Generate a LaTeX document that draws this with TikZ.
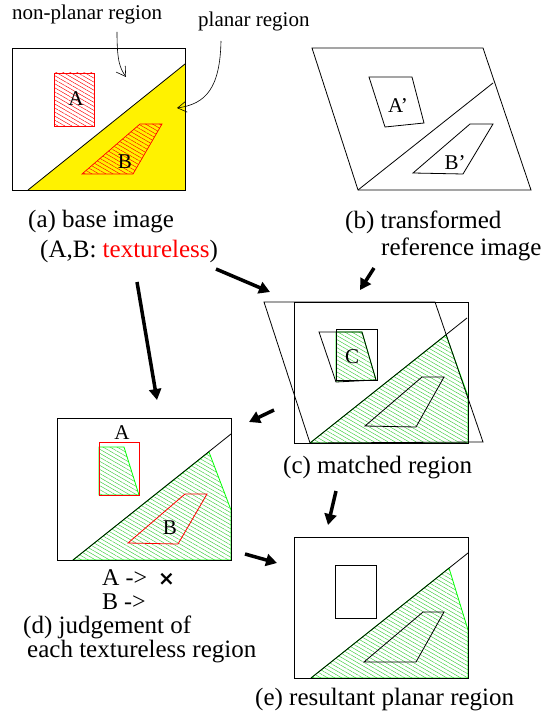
\documentclass[tikz,border=0pt]{standalone}
\usepackage{fontspec}
\setmainfont{Liberation Serif}
\newfontfamily\crossfont{DejaVu Sans}
\usepackage{xcolor}
\usetikzlibrary{arrows.meta}
\usetikzlibrary{patterns.meta}
\definecolor{hatchgreen}{RGB}{60,205,60}
\newcommand{\capsize}{\fontsize{25}{23.5}\selectfont}
\newcommand{\lblsize}{\fontsize{21}{24}\selectfont}
\newcommand{\judgesize}{\fontsize{24}{24}\selectfont}

\begin{document}
\begin{tikzpicture}[x=1pt,y=-1pt]
\tikzstyle{every node}=[inner sep=0pt,anchor=base west]
\tikzstyle{frame}=[line width=0.8pt]
\tikzstyle{lbl}=[anchor=center,font=\lblsize]
\tikzstyle{redhatch}=[draw=red,line width=0.7pt,pattern={Lines[angle=-30,distance=3.5pt,line width=0.45pt]},pattern color=red]
\tikzstyle{greenhatch}=[pattern={Lines[angle=-30,distance=3.5pt,line width=0.45pt]},pattern color=hatchgreen]
\tikzstyle{greenedge}=[draw=green,line width=0.8pt]
\tikzstyle{bigarrow}=[line width=3.5pt,-{Triangle[length=11pt,width=12pt]}]
\tikzstyle{thinarrow}=[line width=0.6pt,-{Straight Barb[length=9pt,width=11pt]}]
\useasboundingbox (0,0) rectangle (551,719);

% (a)
\fill[yellow] (28,190) -- (185,64) -- (185,190) -- cycle;
\draw[frame] (12,48) rectangle (185,190);
\draw[frame] (28,190) -- (185,64);
\draw[redhatch] (54,73) rectangle (94,126);
\draw[redhatch,preaction={fill=yellow}] (82,174) -- (140,124) -- (162,124) -- (133,174) -- cycle;
\node[lbl] (a-A) at (76,99) {A};
\node[lbl] (a-B) at (125,162) {B};
\node[font=\lblsize] (nonplanar) at (12,20) {non-planar region};
\node[font=\lblsize] (planar) at (198,27) {planar region};
\coordinate (np1) at (117,32);
\coordinate (np2) at (126,77);
\coordinate (pl1) at (221,41);
\coordinate (pl2) at (177,108);
\draw[thinarrow] (np1) .. controls (117,62) and (120,68) .. (np2);
\draw[thinarrow] (pl1) .. controls (220,88) and (206,104) .. (pl2);
\node[font=\capsize] (cap-a) at (28,227) {(a) base image};
\node[font=\capsize] (cap-a2) at (40,257) {(A,B: \textcolor{red}{textureless})};

% (b)
\draw[frame] (312,48) -- (483,48) -- (531,190) -- (358,190) -- cycle;
\draw[frame] (358,190) -- (493,83);
\draw[frame] (369,77) -- (412,77) -- (424,123) -- (385,127) -- cycle;
\draw[frame] (413,173) -- (470,124) -- (493,124) -- (463,174) -- cycle;
\node[lbl] (b-A) at (398,106) {A'};
\node[lbl] (b-B) at (455,163) {B'};
\node[font=\capsize] (cap-b) at (345,228) {(b) transformed};
\node[font=\capsize] (cap-b2) at (381,255) {reference image};

% (c)
\fill[greenhatch] (310,443) -- (446,335) -- (468,396) -- (468,443) -- cycle;
\draw[greenedge] (310,443) -- (446,335) -- (468,396) -- (468,443) -- cycle;
\draw[greenhatch,greenedge] (336,332) -- (362,332) -- (376,380) -- (336,381) -- cycle;
\draw[frame] (294,302) rectangle (468,443);
\draw[frame] (264,302) -- (435,302) -- (483,442) -- (310,443) -- cycle;
\draw[frame] (310,443) -- (467,318);
\draw[frame] (319,332) -- (362,332) -- (376,380) -- (336,382) -- cycle;
\draw[frame] (336,329) rectangle (377,380);
\draw[frame] (365,426) -- (422,377) -- (444,377) -- (416,427) -- cycle;
\node[lbl] (c-C) at (352,357) {C};
\node[font=\capsize] (cap-c) at (283,473) {(c) matched region};

% (d)
\draw[greenhatch,greenedge] (73,560) -- (209,452) -- (231,510) -- (231,560) -- cycle;
\draw[frame] (57,418) rectangle (231,560);
\draw[frame] (73,560) -- (231,434);
\draw[greenhatch,greenedge] (99,447) -- (124,447) -- (139,495) -- (99,495) -- cycle;
\draw[red,line width=0.8pt] (99,442) rectangle (139,495);
\draw[red,line width=0.8pt] (128,543) -- (185,494) -- (207,494) -- (178,544) -- cycle;
\node[lbl] (d-A) at (122,433) {A};
\node[lbl] (d-B) at (170,528) {B};
\node[font=\judgesize] (judge-a) at (102,585) {A ->\hspace{11pt}{\crossfont\bfseries\fontsize{20}{20}\selectfont ×}};
\node[font=\judgesize] (judge-b) at (102,609) {B ->};
\node[font=\capsize] (cap-d) at (23,633) {(d) judgement of};
\node[font=\capsize] (cap-d2) at (27,657) {each textureless region};

% (e)
\draw[greenhatch,greenedge] (311,678) -- (449,568) -- (468,630) -- (468,678) -- cycle;
\draw[frame] (294,537) rectangle (468,678);
\draw[frame] (311,678) -- (468,553);
\draw[frame] (335,565) rectangle (376,618);
\draw[frame] (364,662) -- (423,612) -- (444,612) -- (416,662) -- cycle;
\node[font=\capsize] (cap-e) at (255,705) {(e) resultant planar region};

% arrows
\coordinate (ac1) at (216,269);
\coordinate (ac2) at (270,292);
\coordinate (ad1) at (137,282);
\coordinate (ad2) at (157,400);
\coordinate (bc1) at (374,268);
\coordinate (bc2) at (360,290);
\coordinate (cd1) at (274,410);
\coordinate (cd2) at (249,422);
\coordinate (ce1) at (336,491);
\coordinate (ce2) at (328,525);
\coordinate (de1) at (245,554);
\coordinate (de2) at (277,563);
\draw[bigarrow] (ac1) -- (ac2);
\draw[bigarrow] (ad1) -- (ad2);
\draw[bigarrow] (bc1) -- (bc2);
\draw[bigarrow] (cd1) -- (cd2);
\draw[bigarrow] (ce1) -- (ce2);
\draw[bigarrow] (de1) -- (de2);
\end{tikzpicture}
\end{document}
